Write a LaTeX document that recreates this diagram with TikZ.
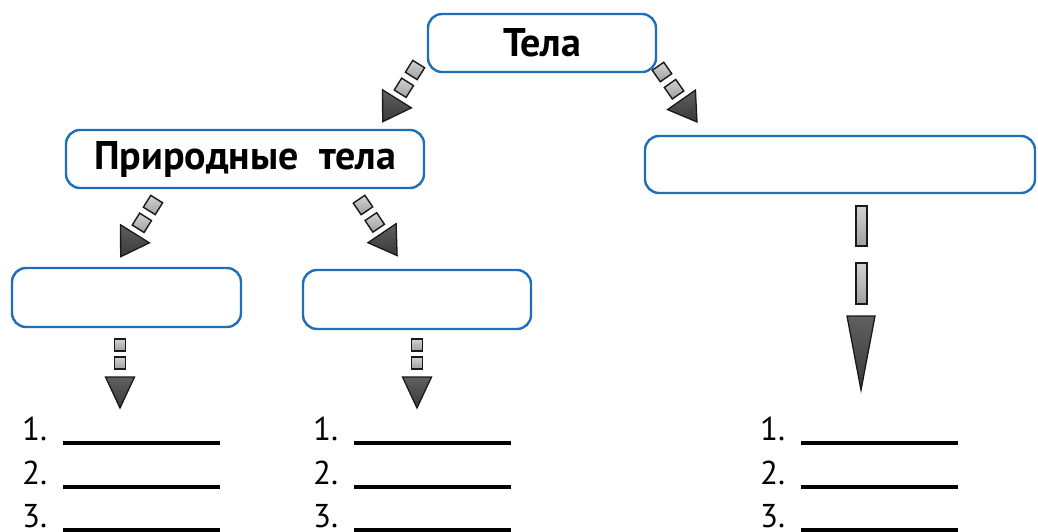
\documentclass[tikz,border=0pt]{standalone}
\usepackage{fontspec}
\setmainfont{PT Sans}
\definecolor{boxblue}{RGB}{30,110,185}
\begin{document}
\begin{tikzpicture}[x=1pt,y=-1pt,
  box/.style={draw=boxblue,line width=2.4pt,rounded corners=14pt,fill=white,inner sep=0pt},
  title/.style={font=\bfseries\fontsize{40}{44}\selectfont},
  sq/.style={draw=black!90,line width=1.4pt,top color=gray!35,bottom color=gray!75},
  tri/.style={draw=black!90,line width=1.3pt,top color=gray!75!black,bottom color=gray!45!black},
  num/.style={font=\fontsize{33}{36}\selectfont,anchor=base west,inner sep=0pt},
  blank/.style={line width=3.4pt},
  chain/.pic={
    \draw[sq] (-7,-7) rectangle (7,7);
    \draw[sq] (-7,14) rectangle (7,28);
    \draw[tri] (-17,34) -- (17,34) -- (0,61) -- cycle;
  },
  vchain/.pic={
    \draw[sq] (-5.5,-6) rectangle (5.5,6);
    \draw[sq] (-5.5,12) rectangle (5.5,24);
    \draw[tri] (-14.5,32) -- (14.5,32) -- (0,63) -- cycle;
  }
]
\useasboundingbox (0,0) rectangle (1038,532);
% boxes
\node[box,title,minimum width=228pt,minimum height=58pt] (tela) at (542,43) {Тела};
\node[box,title,minimum width=358pt,minimum height=58pt] (prir) at (245,159) {Природные\ \ тела};
\node[box,minimum width=390pt,minimum height=57pt] (right) at (840,164.5) {};
\node[box,minimum width=229pt,minimum height=59pt] (left) at (126.5,297.5) {};
\node[box,minimum width=228pt,minimum height=59pt] (mid) at (417,299.5) {};
% diagonal arrows
\pic[rotate=-32] at (415,70) {chain};
\pic[rotate=35] at (662,72) {chain};
\pic[rotate=-32] at (153,205) {chain};
\pic[rotate=34] at (363,205) {chain};
% small vertical arrows
\pic at (120,345) {vchain};
\pic at (417,345) {vchain};
% long vertical arrow
\draw[sq] (856,206) rectangle (867,246);
\draw[sq] (856,263) rectangle (867,304);
\draw[tri] (847,316) -- (875,316) -- (861,390) -- cycle;
% lists
\foreach \x/\c in {22/a,313/b,760/c}{
  \foreach \n/\y in {1/440,2/484,3/527}{
    \node[num] (\c\n) at (\x,\y) {\n.};
    \draw[blank] ([xshift=41pt]\x,\y+3) coordinate (\c\n s) -- ++(157,0) coordinate (\c\n e);
  }
}
\end{tikzpicture}
\end{document}
